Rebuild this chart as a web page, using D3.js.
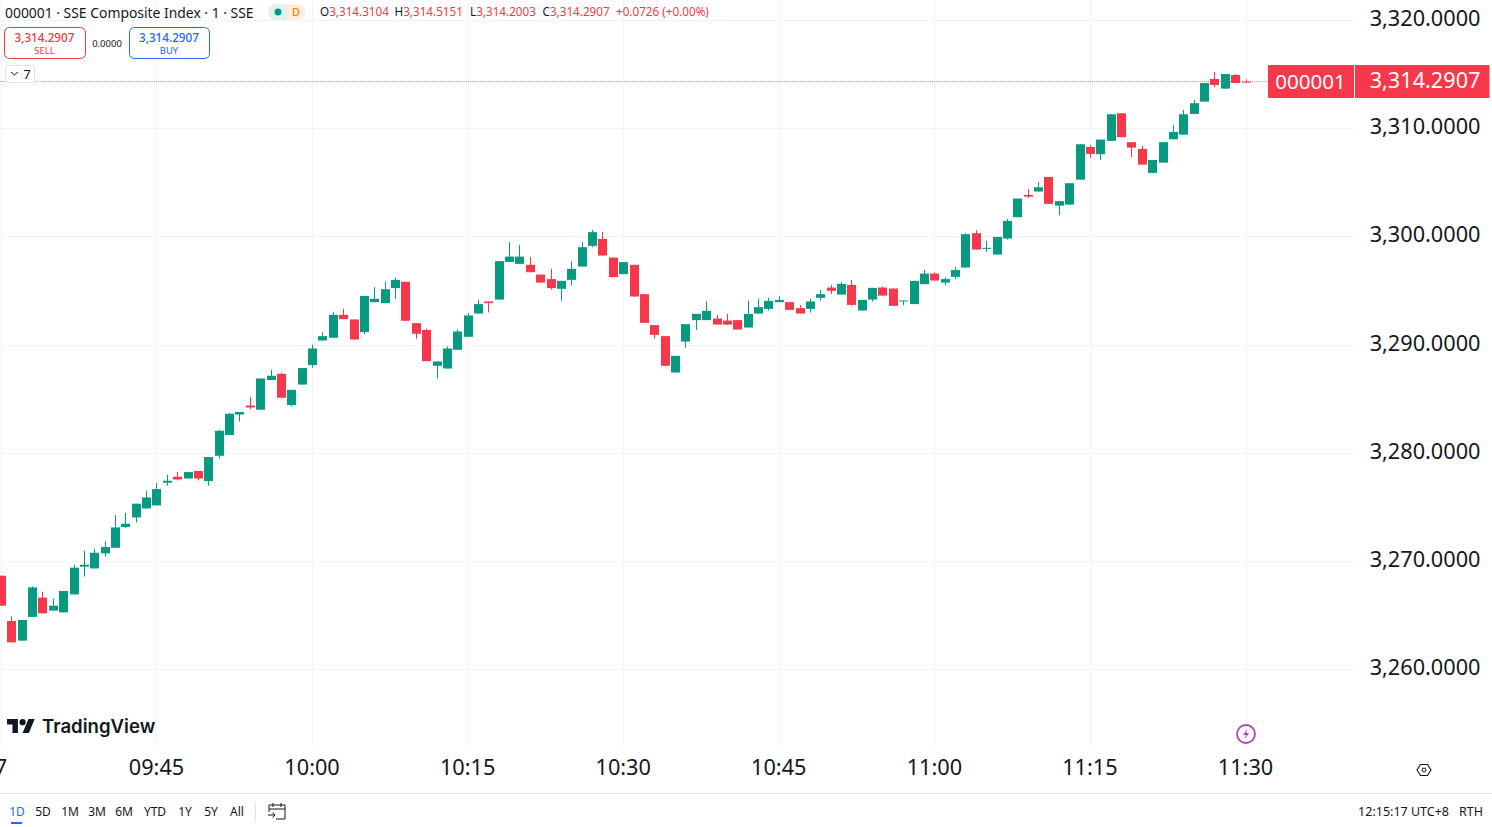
<!DOCTYPE html>
<html>
<head>
<meta charset="utf-8">
<style>
html, body { margin: 0; padding: 0; background: #fff; overflow: hidden; }
text { font-family: "Noto Sans", sans-serif; fill: #131722; }
.axis path, .axis line { display: none; }
.axis text { font-family: "Noto Sans", sans-serif; font-size: 21.7px; fill: #131722; }
.grid line { stroke: #f3f3f5; stroke-width: 1; shape-rendering: crispEdges; }
.range text { font-size: 12px; text-anchor: middle; }
</style>
<script src="https://d3js.org/d3.v7.min.js"></script>
</head>
<body>
<svg id="chart" width="1492" height="827"></svg>
<script>
// one minute bars, 09:30 to 11:30
var opens = [3268.66,3264.48,3262.66,3264.85,3266.63,3265.43,3265.27,3266.93,3269.49,3269.33,3270.72,3271.24,3273.16,3274.04,3274.87,3275.15,
3277.25,3277.80,3277.64,3278.33,3277.40,3279.74,3281.65,3283.55,3284.38,3283.99,3286.73,3287.31,3284.42,3286.32,3288.12,3290.39,
3290.64,3292.76,3292.33,3291.16,3293.93,3293.84,3295.23,3295.81,3291.99,3291.37,3288.05,3287.80,3289.53,3290.73,3292.88,3293.99,
3294.17,3297.65,3297.47,3297.38,3296.48,3296.06,3295.16,3295.99,3297.22,3299.13,3299.78,3298.05,3296.52,3297.38,3294.67,3291.81,
3290.79,3287.43,3290.29,3292.27,3292.27,3292.42,3292.23,3292.27,3291.59,3292.88,3293.31,3293.93,3293.93,3293.38,3293.31,3294.33,
3295.28,3294.63,3295.53,3293.16,3294.17,3295.28,3295.19,3293.99,3293.75,3295.59,3296.57,3295.74,3296.27,3297.13,3300.30,3298.88,
3298.33,3299.81,3301.78,3303.84,3304.15,3305.50,3302.85,3302.94,3305.25,3308.27,3307.60,3308.83,3311.38,3308.71,3308.09,3305.87,
3306.82,3308.98,3309.41,3311.32,3312.46,3314.55,3313.66,3314.92,3314.3104];
var highs = [3268.66,3264.90,3264.57,3267.67,3267.18,3266.54,3267.25,3269.65,3270.97,3271.15,3271.83,3274.26,3274.45,3275.31,3276.51,3277.22,
3277.99,3278.26,3278.23,3278.33,3279.62,3282.14,3283.68,3283.78,3285.19,3286.88,3287.68,3287.40,3285.83,3287.84,3289.99,3291.16,
3293.04,3293.31,3292.33,3294.51,3295.32,3295.81,3296.18,3295.81,3291.99,3291.47,3288.45,3289.83,3291.37,3292.94,3294.14,3293.99,
3297.72,3299.47,3299.22,3298.09,3296.48,3297.01,3295.90,3297.72,3299.47,3300.61,3300.42,3298.05,3297.63,3297.38,3294.67,3291.81,
3290.79,3288.97,3291.90,3292.85,3293.99,3292.76,3292.85,3292.27,3294.08,3294.24,3294.33,3294.49,3293.93,3293.66,3294.24,3295.04,
3295.53,3295.78,3295.99,3294.14,3295.25,3295.37,3295.19,3294.08,3295.90,3296.91,3296.67,3296.24,3297.16,3300.30,3300.58,3299.59,
3299.96,3301.62,3303.50,3304.39,3305.04,3305.50,3303.26,3304.92,3308.52,3308.46,3308.95,3311.29,3311.38,3308.71,3308.37,3307.07,
3308.71,3310.28,3311.69,3312.61,3314.18,3315.20,3315.01,3315.01,3314.5151];
var lows = [3265.89,3262.50,3262.66,3264.85,3265.18,3265.43,3265.27,3266.93,3268.57,3269.33,3270.44,3271.24,3273.06,3273.58,3274.87,3275.15,
3276.97,3277.46,3277.64,3277.46,3276.97,3279.49,3281.65,3282.91,3284.05,3283.99,3286.73,3285.10,3284.29,3286.32,3287.87,3290.39,
3290.64,3292.36,3290.48,3290.98,3293.93,3293.84,3294.24,3292.21,3290.54,3288.48,3286.91,3287.80,3289.53,3290.73,3292.88,3292.97,
3294.17,3297.65,3297.47,3296.70,3295.74,3295.10,3294.05,3295.47,3297.22,3299.01,3298.24,3296.24,3296.52,3294.45,3292.02,3290.57,
3288.05,3287.43,3289.74,3291.37,3292.27,3291.86,3291.86,3291.40,3291.59,3292.88,3293.16,3293.93,3293.22,3292.88,3292.97,3294.08,
3294.70,3294.63,3293.59,3293.16,3293.99,3294.54,3293.59,3293.66,3293.75,3295.59,3295.93,3295.50,3296.08,3297.13,3298.79,3298.58,
3298.33,3299.71,3301.78,3303.56,3304.15,3303.01,3301.97,3302.94,3305.25,3307.26,3307.07,3308.83,3309.17,3307.32,3306.64,3305.87,
3306.82,3308.98,3309.41,3311.32,3312.46,3313.81,3313.66,3314.18,3314.2003];
var closes = [3265.89,3262.50,3264.57,3267.58,3265.18,3265.89,3267.25,3269.40,3269.67,3270.78,3271.31,3273.12,3273.46,3275.31,3275.89,3276.66,
3277.43,3277.55,3278.23,3277.64,3279.62,3282.05,3283.62,3283.78,3284.20,3286.88,3287.13,3285.10,3285.83,3287.84,3289.65,3290.79,
3292.76,3292.36,3290.48,3294.51,3294.24,3295.13,3295.99,3292.21,3291.01,3288.48,3288.45,3289.65,3291.22,3292.70,3293.75,3293.84,
3297.72,3298.14,3298.14,3296.70,3295.74,3295.23,3295.90,3297.01,3299.01,3300.40,3298.24,3296.24,3297.63,3294.45,3292.02,3290.91,
3288.05,3288.97,3291.90,3292.85,3293.13,3291.86,3291.86,3291.40,3292.85,3293.47,3294.05,3294.14,3293.22,3292.88,3293.99,3294.67,
3294.98,3295.62,3293.68,3294.14,3295.25,3294.54,3293.59,3294.08,3295.90,3296.57,3295.93,3296.06,3296.91,3300.21,3298.79,3298.95,
3299.96,3301.44,3303.50,3303.68,3304.55,3303.01,3303.26,3304.92,3308.52,3307.63,3308.95,3311.29,3309.17,3308.21,3306.64,3307.07,
3308.71,3309.66,3311.29,3312.31,3314.18,3314.00,3315.01,3314.18,3314.2907];

var timeTicks = [0, 15, 30, 45, 60, 75, 90, 105, 120];
var timeLabels = ["7", "09:45", "10:00", "10:15", "10:30", "10:45", "11:00", "11:15", "11:30"];
var priceTicks = [3260, 3270, 3280, 3290, 3300, 3310, 3320];
var lastPrice = 3314.2907;
var ranges = ["1D", "5D", "1M", "3M", "6M", "YTD", "1Y", "5Y", "All"];

var upColor = "#089981", downColor = "#f7374b";

var svg = d3.select("#chart");
var x = d3.scaleLinear().domain([0, 120]).range([0.9, 1245.5]);
var y = d3.scaleLinear().domain([3260, 3320]).range([669.4, 20]);
var paneRight = 1354, paneBottom = 746;

// grid
var grid = svg.append("g").attr("class", "grid");
grid.selectAll("line.v").data(timeTicks).join("line").attr("class", "v")
    .attr("x1", function(d) { return Math.round(x(d)) + 0.5; })
    .attr("x2", function(d) { return Math.round(x(d)) + 0.5; })
    .attr("y1", 0).attr("y2", paneBottom);
grid.selectAll("line.h").data(priceTicks).join("line").attr("class", "h")
    .attr("x1", 0).attr("x2", paneRight)
    .attr("y1", function(d) { return Math.round(y(d)) + 0.5; })
    .attr("y2", function(d) { return Math.round(y(d)) + 0.5; });

// last price line
svg.append("line").attr("x1", 0).attr("x2", 1268)
    .attr("y1", Math.floor(y(lastPrice)) + 0.5).attr("y2", Math.floor(y(lastPrice)) + 0.5)
    .attr("stroke", "#f98a97").attr("stroke-dasharray", "1 1").style("shape-rendering", "crispEdges");

// candles
var bars = svg.append("g").selectAll("g").data(d3.range(opens.length)).join("g");
function barColor(i) { return closes[i] < opens[i] ? downColor : upColor; }
bars.append("rect")
    .attr("x", function(i) { return Math.round(x(i)); })
    .attr("width", 1)
    .attr("y", function(i) { return y(highs[i]); })
    .attr("height", function(i) { return y(lows[i]) - y(highs[i]); })
    .attr("fill", barColor);
bars.append("rect")
    .attr("x", function(i) { return Math.round(x(i)) - 4; })
    .attr("width", 9)
    .attr("y", function(i) { return y(Math.max(opens[i], closes[i])); })
    .attr("height", function(i) { return Math.max(1, Math.abs(y(opens[i]) - y(closes[i]))); })
    .attr("fill", barColor);

// axes
var yAxis = d3.axisRight(y).tickValues(priceTicks).tickSize(0).tickPadding(0).tickFormat(d3.format(",.4f"));
var gy = svg.append("g").attr("class", "axis").attr("transform", "translate(1480.5,-1.6)").call(yAxis);
gy.selectAll("text").attr("text-anchor", "end");
var xAxis = d3.axisBottom(x).tickValues(timeTicks).tickSize(0).tickPadding(0)
    .tickFormat(function(d, i) { return timeLabels[i]; });
svg.append("g").attr("class", "axis").attr("transform", "translate(-0.5,760)").call(xAxis);

// price labels
svg.append("rect").attr("x", 1268).attr("y", 65).attr("width", 221.5).attr("height", 33).attr("rx", 1).attr("fill", downColor);
svg.append("rect").attr("x", 1354).attr("y", 65).attr("width", 1).attr("height", 33).attr("fill", "#fff");
svg.append("text").attr("x", 1310.5).attr("y", 89).attr("text-anchor", "middle").attr("font-size", 20.6).style("fill", "#fff").text("000001");
svg.append("text").attr("x", 1480.5).attr("y", 88).attr("text-anchor", "end").attr("font-size", 21.7).style("fill", "#fff").text(d3.format(",.4f")(lastPrice));

// legend
svg.append("text").attr("x", 5).attr("y", 18).attr("font-size", 13.9).text("000001 \u00b7 SSE Composite Index \u00b7 1 \u00b7 SSE");
svg.append("rect").attr("x", 268).attr("y", 4).attr("width", 37).attr("height", 16).attr("rx", 8).attr("fill", "#dff2ee");
svg.append("path").attr("d", "M287 4h10a8 8 0 0 1 0 16h-10z").attr("fill", "#ffeedb");
svg.append("circle").attr("cx", 278).attr("cy", 12).attr("r", 3.5).attr("fill", upColor);
svg.append("text").attr("x", 296).attr("y", 16).attr("text-anchor", "middle").attr("font-size", 11).attr("font-weight", 500).style("fill", "#f57c00").text("D");

var ohlcLabels = [["O", 320], ["H", 394.5], ["L", 470], ["C", 542.5]];
var ohlcValues = [opens[120], highs[120], lows[120], closes[120]];
ohlcLabels.forEach(function(d, i) {
    var t = svg.append("text").attr("x", d[1]).attr("y", 16).attr("font-size", 11.7);
    t.append("tspan").text(d[0]);
    t.append("tspan").style("fill", downColor).text(d3.format(",.4f")(ohlcValues[i]));
});
svg.append("text").attr("x", 616).attr("y", 16).attr("font-size", 11.7).style("fill", downColor).text("+0.0726 (+0.00%)");

// sell / buy
function tradeButton(bx, w, color, label) {
    svg.append("rect").attr("x", bx + 0.5).attr("y", 27.5).attr("width", w).attr("height", 31).attr("rx", 5)
        .attr("fill", "#fff").attr("stroke", color);
    svg.append("text").attr("x", bx + w / 2).attr("y", 42).attr("text-anchor", "middle").attr("font-size", 11.7)
        .attr("font-weight", 500).style("fill", color).text(d3.format(",.4f")(lastPrice));
    svg.append("text").attr("x", bx + w / 2).attr("y", 54).attr("text-anchor", "middle").attr("font-size", 9.5)
        .style("fill", color).text(label);
}
tradeButton(4, 81, "#f23645", "SELL");
tradeButton(129, 80, "#2962ff", "BUY");
svg.append("text").attr("x", 107).attr("y", 47).attr("text-anchor", "middle").attr("font-size", 9.5).text("0.0000");

// collapse button
svg.append("rect").attr("x", 5.5).attr("y", 65.5).attr("width", 29).attr("height", 17).attr("rx", 2)
    .attr("fill", "#fff").attr("stroke", "#e0e3eb");
svg.append("path").attr("d", "M11 72l3.5 3 3.5-3").attr("fill", "none").attr("stroke", "#131722");
svg.append("text").attr("x", 27).attr("y", 79).attr("text-anchor", "middle").attr("font-size", 13).text("7");

// watermark
svg.append("g").attr("transform", "translate(7,715.9) scale(0.78)").append("path")
    .attr("d", "M14 22H7V11H0V4h14v18zM28 22h-8l7.5-18h8L28 22zM24 8a4 4 0 1 1-8 0 4 4 0 0 1 8 0z").attr("fill", "#131722");
svg.append("text").attr("x", 42).attr("y", 733).attr("font-size", 18.6).attr("font-weight", 600)
    .style("font-family", "Inter").text("TradingView");

// bolt marker
svg.append("circle").attr("cx", 1246).attr("cy", 734).attr("r", 9).attr("fill", "#fff").attr("stroke", "#ab47bc").attr("stroke-width", 1.8);
svg.append("path").attr("d", "M1247.5 728.5l-4.5 6.5h3l-1.5 4.5 4.5-6.5h-3z").attr("fill", "#ab47bc");

// settings icon under price scale
svg.append("path").attr("d", "M1420.5 764.5h7l3.5 5.5-3.5 5.5h-7l-3.5-5.5z").attr("fill", "none").attr("stroke", "#131722").attr("stroke-width", 1.1);
svg.append("circle").attr("cx", 1424).attr("cy", 770).attr("r", 2).attr("fill", "none").attr("stroke", "#131722");

// bottom toolbar
svg.append("line").attr("x1", 0).attr("x2", 1492).attr("y1", 793.5).attr("y2", 793.5).attr("stroke", "#e0e3eb");
var rangeX = [17, 43, 70, 97, 124, 155, 185, 211, 237];
svg.append("g").attr("class", "range").selectAll("text").data(ranges).join("text")
    .attr("x", function(d, i) { return rangeX[i]; }).attr("y", 816)
    .style("fill", function(d, i) { return i === 0 ? "#2962ff" : "#131722"; })
    .text(function(d) { return d; });
svg.append("rect").attr("x", 11).attr("y", 822).attr("width", 11).attr("height", 2).attr("fill", "#2962ff");
svg.append("line").attr("x1", 255.5).attr("x2", 255.5).attr("y1", 802).attr("y2", 822).attr("stroke", "#e0e3eb");
svg.append("path").attr("d", "M269 812v-7h16v14h-9M269 809h16M273 803v4M281 803v4M268 815h7l-2.5-2.5M275 815l-2.5 2.5")
    .attr("fill", "none").attr("stroke", "#131722");
svg.append("text").attr("x", 1449).attr("y", 816).attr("text-anchor", "end").attr("font-size", 12.5).text("12:15:17 UTC+8");
svg.append("text").attr("x", 1483).attr("y", 816).attr("text-anchor", "end").attr("font-size", 12.5).text("RTH");
</script>
</body>
</html>
